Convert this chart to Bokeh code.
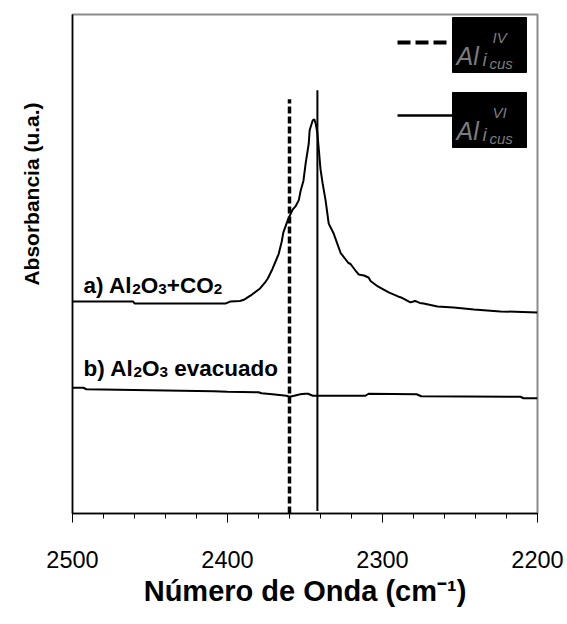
from bokeh.embed import file_html
from bokeh.models import FixedTicker, Label, Range1d
from bokeh.plotting import figure
from bokeh.resources import INLINE

# ---- spectra (wavenumber in cm-1, absorbance in arbitrary units) ----
wn_a = [2500, 2461, 2460, 2401, 2398, 2392, 2389, 2385, 2379, 2376, 2374, 2371,
        2369, 2367, 2365, 2364, 2361, 2358, 2356, 2354, 2352.8, 2351, 2349.6,
        2347.6, 2347, 2345, 2344, 2343, 2342, 2340, 2338.6, 2336.7, 2334.7,
        2331.5, 2327, 2322, 2320.6, 2317, 2315.4, 2312, 2309, 2307.7, 2303,
        2296, 2290, 2288, 2282, 2279, 2276, 2273.5, 2264.5, 2254, 2241, 2224, 2200]
abs_a = [0.425, 0.425, 0.421, 0.421, 0.425, 0.426, 0.429, 0.437, 0.451, 0.462,
         0.471, 0.490, 0.505, 0.520, 0.545, 0.563, 0.589, 0.609, 0.616, 0.628,
         0.647, 0.667, 0.701, 0.741, 0.768, 0.788, 0.790, 0.780, 0.762, 0.690,
         0.661, 0.627, 0.581, 0.561, 0.522, 0.502, 0.500, 0.485, 0.479, 0.477,
         0.473, 0.466, 0.455, 0.443, 0.435, 0.433, 0.423, 0.426, 0.422, 0.421,
         0.415, 0.413, 0.409, 0.405, 0.403]

wn_b = [2500, 2493, 2491, 2409, 2400, 2380, 2378, 2371, 2362, 2360, 2357, 2353,
        2350, 2348, 2345, 2311, 2309, 2278, 2275, 2211, 2209, 2200]
abs_b = [0.252, 0.252, 0.249, 0.245, 0.244, 0.243, 0.241, 0.239, 0.236, 0.234,
         0.236, 0.239, 0.240, 0.240, 0.236, 0.236, 0.240, 0.239, 0.235, 0.234,
         0.231, 0.231]

# reference band positions
dashed_wn, dashed_top = 2360, 0.830
solid_wn, solid_top = 2342, 0.848

x_ticks = [2500, 2400, 2300, 2200]
x_minor = list(range(2200, 2501, 20))

FONT = "Liberation Sans"

# frame geometry on the canvas (pixels)
L, R, T, B = 72, 537, 14, 513
X0, X1, Y0, Y1 = 2500, 2200, 0.0, 1.0


def xd(px):
    return X0 + (px - L) / (R - L) * (X1 - X0)


def yd(py):
    return Y0 + (B - py) / (B - T) * (Y1 - Y0)


p = figure(width=567, height=624, output_backend="svg", toolbar_location=None,
           x_range=Range1d(X0, X1), y_range=Range1d(Y0, Y1),
           min_border_left=L, min_border_right=567 - R,
           min_border_top=T, min_border_bottom=624 - B)
p.grid.visible = False
p.background_fill_color = "white"
p.border_fill_color = "white"
p.outline_line_color = "#8c8c8c"
p.outline_line_width = 2

xa = p.xaxis[0]
xa.ticker = FixedTicker(ticks=x_ticks, minor_ticks=x_minor)
xa.axis_line_color = "black"
xa.axis_line_width = 1.5
xa.major_tick_line_color = "black"
xa.minor_tick_line_color = "black"
xa.major_tick_out = 9
xa.major_tick_in = 0
xa.minor_tick_out = 5
xa.minor_tick_in = 0
xa.major_label_text_font = FONT
xa.major_label_text_font_size = "23.5px"
xa.major_label_text_color = "black"
xa.major_label_standoff = 28
xa.axis_label = "Número de Onda (cm⁻¹)"
xa.axis_label_text_font = FONT
xa.axis_label_text_font_size = "29px"
xa.axis_label_text_font_style = "bold"
xa.axis_label_text_color = "black"
xa.axis_label_standoff = 4

# left axis: bare line plus the vertical title; the title is lifted above the
# middle of the frame by leading no-break spaces
ya = p.yaxis[0]
ya.ticker = FixedTicker(ticks=[])
ya.axis_line_color = "black"
ya.axis_line_width = 1.5
ya.major_tick_out = 0
ya.minor_tick_out = 0
ya.major_label_text_font_size = "0px"
ya.axis_label = "\u00a0" * 24 + "Absorbancia (u.a.)"
ya.axis_label_text_font = FONT
ya.axis_label_text_font_size = "21px"
ya.axis_label_text_font_style = "bold"
ya.axis_label_text_color = "black"
ya.axis_label_standoff = 30

# spectra
p.line(wn_a, abs_a, line_color="black", line_width=2)
p.line(wn_b, abs_b, line_color="black", line_width=2)

# band markers
p.segment(x0=[dashed_wn], y0=[0], x1=[dashed_wn], y1=[dashed_top],
          line_color="black", line_width=3.5, line_dash="7 3")
p.segment(x0=[solid_wn], y0=[0.005], x1=[solid_wn], y1=[solid_top],
          line_color="black", line_width=2)

# key in the upper right corner
p.segment(x0=[xd(397)], y0=[yd(42)], x1=[xd(448)], y1=[yd(42)],
          line_color="black", line_width=4, line_dash="13 5")
p.segment(x0=[xd(397)], y0=[yd(115)], x1=[xd(452)], y1=[yd(115)],
          line_color="black", line_width=2.5)
for top in (17, 92):
    p.quad(left=[xd(452)], right=[xd(526)], top=[yd(top)], bottom=[yd(top + 55)],
           fill_color="black", line_color="black")


def glyph(x_px, y_px, text, size, color="#7c7c7c", style="italic"):
    p.add_layout(Label(x=xd(x_px), y=yd(y_px), text=text, text_font=FONT,
                       text_font_size=f"{size}px", text_font_style=style,
                       text_color=color, text_baseline="alphabetic",
                       text_align="left"))


for top, sup in ((17, "IV"), (92, "VI")):
    glyph(456, top + 38, "Al", 25)
    glyph(482, top + 42, "i", 19)
    glyph(492, top + 20, sup, 15)
    glyph(489, top + 46, "cus", 15)

# bold text built from pieces so subscripts can be drawn
W_BOLD = {' ': 278, '(': 333, ')': 333, '+': 584, '-': 333, '.': 278,
          'A': 722, 'C': 722, 'N': 722, 'O': 778, 'a': 556, 'b': 611,
          'c': 556, 'd': 611, 'e': 556, 'i': 278, 'l': 278, 'm': 889,
          'n': 611, 'o': 611, 'r': 389, 's': 556, 'u': 611, 'v': 556}


def text_w(s, size):
    return sum(W_BOLD.get(c, 556) for c in s) * size / 1000


def rich(x_px, base_px, parts, size):
    x = x_px
    for txt, kind in parts:
        if kind == "sub":
            fs, dy = size * 0.68, size * 0.15
        else:
            fs, dy = size, 0
        lead = len(txt) - len(txt.lstrip(" "))
        x += text_w(" " * lead, fs)
        txt = txt.lstrip(" ")
        p.add_layout(Label(x=xd(x), y=yd(base_px + dy), text=txt, text_font=FONT,
                           text_font_size=f"{fs:.1f}px", text_font_style="bold",
                           text_color="black", text_baseline="alphabetic",
                           text_align="left"))
        x += text_w(txt, fs)


rich(83, 285, [("a) Al", "n"), ("2", "sub"), ("O", "n"), ("3", "sub"),
               ("+CO", "n"), ("2", "sub")], 22.5)
rich(83, 368, [("b) Al", "n"), ("2", "sub"), ("O", "n"), ("3", "sub"),
               (" evacuado", "n")], 22.5)

open("out.html", "w").write(file_html(p, INLINE))
